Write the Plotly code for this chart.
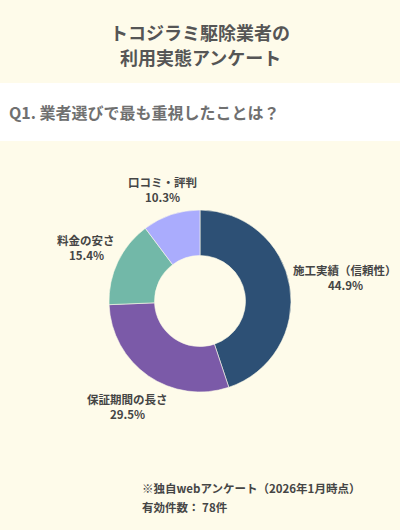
import math
import plotly.graph_objects as go

# ==== data ====
labels = ["施工実績（信頼性）", "保証期間の長さ", "料金の安さ", "口コミ・評判"]
counts = [35, 23, 12, 8]
colors = ["#2d5075", "#7b5aa8", "#72b8a8", "#aaacfd"]

title_lines = ["トコジラミ駆除業者の", "利用実態アンケート"]
question = "Q1. 業者選びで最も重視したことは？"
notes = ["※独自webアンケート（2026年1月時点）", "有効件数： 78件"]

W, H = 400, 530
BG = "#fefbea"
FONT = "Noto Sans CJK JP"

# donut geometry in pixels
cx, cy, R = 200, 301, 91

def px(x):
    return x / W

def py(y):
    return 1 - y / H

def text_width(s, size):
    # rough width of a string: wide chars ~1 em, narrow ones ~0.6 em
    w = 0
    for ch in s:
        w += size if ord(ch) > 0x2000 else size * 0.6
    return w

fig = go.Figure()
fig.add_trace(go.Pie(
    labels=labels,
    values=counts,
    hole=0.5,
    sort=False,
    direction="clockwise",
    rotation=0,
    marker=dict(colors=colors, line=dict(color=BG, width=0.6)),
    textinfo="none",
    hoverinfo="label+percent",
    domain=dict(x=[px(cx - R), px(cx + R)], y=[py(cy + R), py(cy - R)]),
    showlegend=False,
))

# labels outside each slice, pushed out along the mid angle like datalabels "end"
total = sum(counts)
annotations = []
acc = 0
fs = 11.5
lab_font = dict(family=FONT, size=fs, color="#454545", weight="bold")
for lab, c in zip(labels, counts):
    mid = (acc + c / 2) / total * 2 * math.pi
    acc += c
    vx, vy = math.sin(mid), math.cos(mid)
    pct = c / total * 100
    w = text_width(lab, fs) + 2
    h = 28
    d = R + 2 + abs(vx) * w / 2 + abs(vy) * h / 2
    lx, ly = cx + vx * d, cy - vy * d
    annotations.append(dict(
        x=px(lx), y=py(ly - 7.5), xref="paper", yref="paper",
        text=lab, showarrow=False, xanchor="center", yanchor="middle",
        font=lab_font,
    ))
    annotations.append(dict(
        x=px(lx), y=py(ly + 7.5), xref="paper", yref="paper",
        text=f"{pct:.1f}%", showarrow=False, xanchor="center", yanchor="middle",
        font=lab_font,
    ))

# title
for i, t in enumerate(title_lines):
    annotations.append(dict(
        x=0.5, y=py(32 + 25 * i), xref="paper", yref="paper", text=t,
        showarrow=False, xanchor="center", yanchor="middle",
        font=dict(family=FONT, size=18, color="#555555", weight="bold"),
    ))

# question in white band
annotations.append(dict(
    x=px(7), y=py(112), xref="paper", yref="paper", text=question,
    showarrow=False, xanchor="left", yanchor="middle",
    font=dict(family=FONT, size=16, color="#707070", weight="bold"),
))

# footnotes
for i, t in enumerate(notes):
    annotations.append(dict(
        x=px(140), y=py(488 + 19 * i), xref="paper", yref="paper", text=t,
        showarrow=False, xanchor="left", yanchor="middle",
        font=dict(family=FONT, size=11.5, color="#454545", weight="bold"),
    ))

fig.update_layout(
    width=W, height=H,
    margin=dict(l=0, r=0, t=0, b=0),
    paper_bgcolor=BG, plot_bgcolor=BG,
    annotations=annotations,
    shapes=[dict(type="rect", xref="paper", yref="paper",
                 x0=0, x1=1, y0=py(141), y1=py(83),
                 fillcolor="#ffffff", line=dict(width=0), layer="below")],
)

fig.write_html("out.html", config={"displayModeBar": False},
               post_script="document.body.style.margin='0';")
